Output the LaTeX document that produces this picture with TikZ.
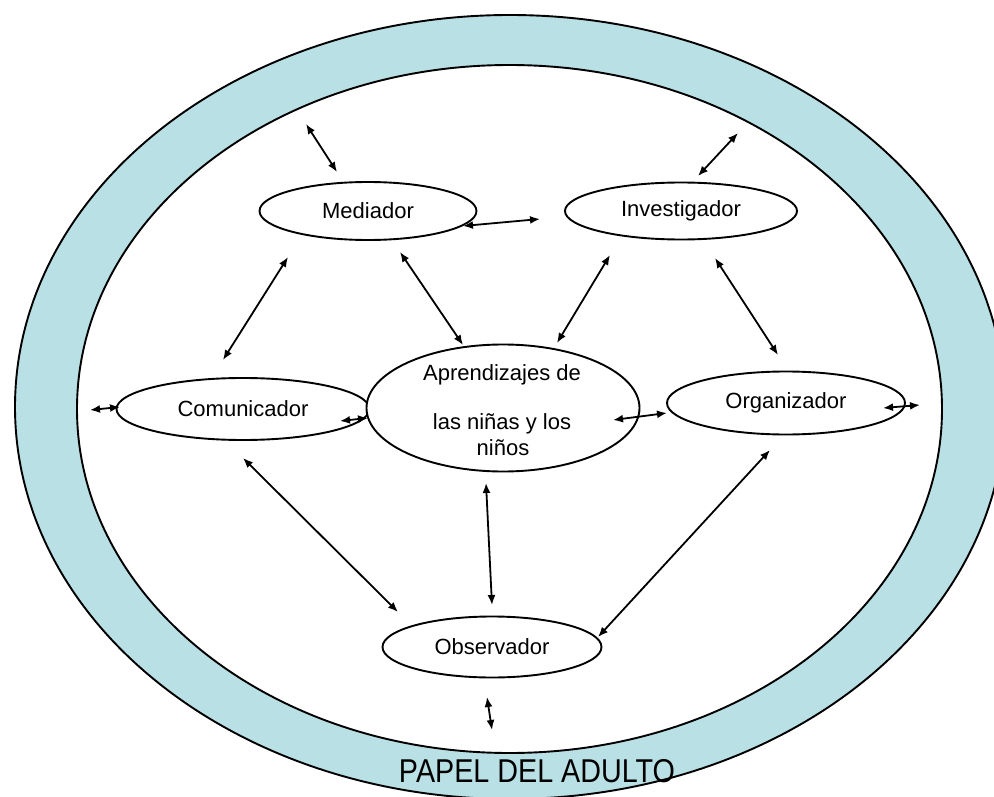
\documentclass[tikz,border=0pt]{standalone}
\usepackage{fontspec}
\setmainfont{Liberation Sans}
\usetikzlibrary{arrows.meta,shapes.geometric,calc}
\definecolor{ringfill}{RGB}{185,224,228}
\begin{document}
\begin{tikzpicture}[x=1pt,y=-1pt,
  role/.style={ellipse,draw=black,line width=1.9pt,fill=white,inner sep=0pt,
    font=\fontsize{22}{26}\selectfont},
  arr/.style={{Latex[length=10pt,width=8pt]}-{Latex[length=10pt,width=8pt]},line width=1.8pt},
  txt/.style={font=\fontsize{22}{26}\selectfont,inner sep=0pt},
  ringline/.style={line width=1.9pt,draw=black}]
\useasboundingbox (0,0) rectangle (994,797);
\clip (0,0) rectangle (994,797);
\fill[white] (0,0) rectangle (994,797);
% ring
\fill[ringfill,even odd rule] (510,407) ellipse [x radius=495pt,y radius=392pt]
  (509.5,409) ellipse [x radius=432.5pt,y radius=344pt];
\draw[ringline] (510,407) ellipse [x radius=495pt,y radius=392pt];
\draw[ringline] (509.5,409) ellipse [x radius=432.5pt,y radius=344pt];
% nodes
\node[role,minimum width=217pt,minimum height=58pt] (med) at (368,211) {Mediador};
\node[role,minimum width=232pt,minimum height=57pt] (inv) at (681,211) {Investigador};
\node[role,minimum width=253pt,minimum height=62pt] (com) at (243,409) {Comunicador};
\node[role,minimum width=238pt,minimum height=63pt] (org) at (786,403) {Organizador};
\node[role,minimum width=273pt,minimum height=127pt] (apr) at (503,408) {};
\node[txt,anchor=base] (apr1) at (502,380) {Aprendizajes de};
\node[txt,anchor=base] (apr2) at (502,429) {las niñas y los};
\node[txt,anchor=base] (apr3) at (503,455) {niños};
\node[role,minimum width=219pt,minimum height=61pt] (obs) at (492,647) {Observador};
% free ends on the ring
\coordinate (r1) at (306,124);
\coordinate (r2) at (738,133);
\coordinate (r3) at (90,410);
\coordinate (r4) at (920,405);
\coordinate (r5) at (492,730);
% connectors
\draw[arr] (r1) -- ($(med)+(-31,-39)$);
\draw[arr] (r2) -- ($(inv)+(17,-35)$);
\draw[arr] ($(med)+(95,15)$) -- ($(inv)+(-141,8)$);
\draw[arr] ($(med)+(-80,46)$) -- ($(com)+(-20,-49)$);
\draw[arr] ($(med)+(32,41)$) -- ($(apr)+(-40,-63)$);
\draw[arr] ($(inv)+(-71,44)$) -- ($(apr)+(54,-65)$);
\draw[arr] ($(inv)+(34,47)$) -- ($(org)+(-8,-48)$);
\draw[arr] (r3) -- ($(com)+(-123,-2)$);
\draw[arr] ($(com)+(97,12)$) -- ($(apr)+(-135,10)$);
\draw[arr] ($(apr)+(110,12)$) -- ($(org)+(-119,10)$);
\draw[arr] ($(org)+(97,5)$) -- (r4);
\draw[arr] ($(com)+(0,49)$) -- ($(obs)+(-94,-35)$);
\draw[arr] ($(apr)+(-17,75)$) -- ($(obs)+(0,-42)$);
\draw[arr] ($(org)+(-16,47)$) -- ($(obs)+(106,-10)$);
\draw[arr] ($(obs)+(-5,50)$) -- (r5);
% title
\node[anchor=base,inner sep=0pt,font=\fontsize{33}{36}\selectfont,xscale=0.87] (title) at (537,782) {PAPEL DEL ADULTO};
\end{tikzpicture}
\end{document}
